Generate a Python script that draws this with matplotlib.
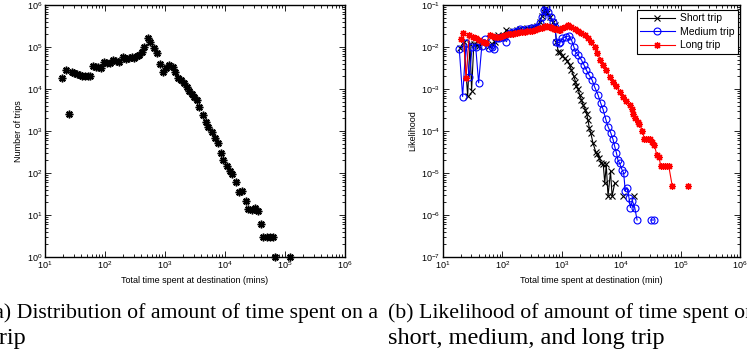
import numpy as np
import matplotlib
matplotlib.use('Agg')
import matplotlib.pyplot as plt

plt.rcParams['font.family'] = ['Liberation Sans', 'DejaVu Sans']
plt.rcParams['mathtext.default'] = 'regular'

nan = np.nan

# (a) number of trips vs total time at destination
trip_time = [19.4, 22.4, 25.1, 27.8, 30.8, 34.1, 37.8, 41.9, 46.4, 51.4, 57, 64, 70, 77.5, 85.8,
             97.5, 109, 121, 138, 152, 171, 202, 224, 251, 279, 308, 341, 373, 408, 452, 514,
             570, 648, 726, 826, 926, 1040, 1180, 1340, 1470, 1670, 1850, 2070, 2300, 2540,
             2790, 3080, 3370, 3730, 4250, 4770, 5270, 6000, 6810, 7740, 8470, 9380, 10660,
             12110, 13250, 15060, 17100, 19440, 22100, 24480, 27830, 31620, 35000, 39270,
             43520, 49440, 56230, 62250, 69000, 122700]
trip_count = [18600, 28300, 2500, 25800, 23600, 22400, 21500, 20700, 20400, 20400, 20400, 35300,
              33400, 32800, 31000, 44700, 42400, 40800, 49000, 46400, 44700, 58900, 51800, 55700,
              58900, 55700, 61100, 64600, 74800, 102000, 167000, 134000, 96400, 70800, 38700,
              24900, 31000, 37300, 34000, 24900, 18600, 16400, 13600, 11000, 9130, 7460, 6560,
              5470, 3660, 2400, 1670, 1270, 964, 668, 506, 302, 209, 145, 110, 95, 61, 36, 38,
              22, 14, 13, 15, 12.5, 6, 3, 3, 3, 3, 1, 1]

# (b) likelihood per trip type
short_t = [19.5, 22.5, 26, 28.5, 30.3, 33, 37, 41, 46, 52, 59, 66, 74, 85, 95, 106, 117, 134,
           152, 173, 197, 224, 261, 298, 339, 385, 427, 461, 498, 525, 560, 631, 700, 763, 814,
           870, 925, 1000, 1120, 1230, 1360, 1455, 1590, 1700, 1766, 1880, 2000, 2140, 2280,
           2500, 2620, 2760, 2900, 3070, 3360, 3720, 3930, 4270, 4600, 4990, 5290, 5600, 6000,
           6610, 7030, 7770, nan, 10720, nan, 16200]
short_l = [0.0095, 0.0135, 6.8e-4, 0.0115, 9.2e-4, 0.0115, 0.011, 0.0105, 0.0125, 0.0135,
           0.0105, 0.0118, 0.0135, 0.0193, 0.016, 0.0185, 0.0254, 0.022, 0.0235, 0.026, 0.027,
           0.025, 0.028, 0.029, 0.03, 0.032, 0.04, 0.055, 0.07, 0.079, 0.065, 0.053, 0.04,
           0.033, 0.0134, 0.0077, 0.0077, 0.0061, 0.0054, 0.0046, 0.0037, 0.0028, 0.002,
           0.0015, 0.00117, 0.001, 7.2e-4, 5.5e-4, 4.2e-4, 3.2e-4, 2.6e-4, 1.8e-4, 1.2e-4,
           9e-5, 5.1e-5, 3.2e-5, 2.8e-5, 2.3e-5, 1.7e-5, 1.6e-5, 5.7e-6, 1.6e-5, 2.8e-6,
           1.1e-5, 2.8e-6, 5.7e-6, nan, 2.8e-6, nan, 2.8e-6]

medium_t = [18.8, 21.4, 24.4, 27.7, 31, 35.5, 39.8, 45, 50.8, 59, 66, 72, 80, 88, 100, 117, 134,
            152, 173, 197, 224, 261, 298, 339, 385, 427, 461, 498, 538, 589, 646, 714, 763, 814,
            880, 950, 1012, 1167, 1312, 1456, 1592, 1700, 1880, 2140, 2370, 2600, 2880, 3235,
            3590, 4075, 4520, 4940, 5500, 6000, 6660, 7280, 7770, 8310, 8830, 9440, 10300,
            11000, 11700, 12500, 13500, 14300, 15400, 16900, 18500, nan, 31600, 35000]
medium_l = [0.0088, 6.6e-4, 0.0122, 0.0019, 0.0102, 0.0102, 0.0014, 0.0105, 0.0152, 0.0096,
            0.0102, 0.0088, 0.0162, 0.0165, 0.017, 0.0134, 0.021, 0.0224, 0.0245, 0.0263,
            0.0254, 0.0269, 0.0278, 0.0288, 0.0304, 0.0366, 0.0527, 0.076, 0.088, 0.069, 0.0527,
            0.040, 0.0304, 0.0134, 0.0127, 0.0134, 0.0161, 0.0176, 0.0183, 0.0147, 0.0102,
            0.0077, 0.0064, 0.0049, 0.0037, 0.0028, 0.00215, 0.00164, 0.0011, 7.2e-4, 4.6e-4,
            3.3e-4, 1.9e-4, 1.27e-4, 9.1e-5, 6.3e-5, 4.3e-5, 3.0e-5, 2.0e-5, 1.7e-5, 1.2e-5,
            1.0e-5, 3.8e-6, 4.5e-6, 2.6e-6, 1.5e-6, 2.2e-6, 1.5e-6, 7.6e-7, nan, 7.6e-7, 7.6e-7]

long_t = [19.8, 21.9, 24.4, 27.7, 31.6, 35.8, 40.7, 46.4, 52.5, 61.6, 68, 74.8, 82, 90.8, 100,
          110, 122, 134, 148, 162, 178, 197, 217, 239, 263, 290, 320, 352, 388, 427, 462, 498,
          530, 566, 605, 646, 690, 734, 783, 834, 880, 925, 1020, 1120, 1277, 1455, 1650, 1880,
          2140, 2430, 2760, 3160, 3590, 3980, 4470, 4940, 5620, 6410, 7280, 8310, 9440, 10720,
          12200, 13900, 15200, 15800, 17000, 19000, 20300, 22700, 24500, 26400, 28500, 30000,
          33000, 36000, 39800, 43300, 46200, 50000, 54000, 58000, 63000, 72500, nan, 132000]
long_l = [0.0152, 0.0219, 0.0018, 0.0193, 0.0176, 0.0161, 0.0147, 0.0134, 0.0122, 0.0193, 0.018,
          0.017, 0.0172, 0.0176, 0.0185, 0.0193, 0.02, 0.0204, 0.0208, 0.0212, 0.0218, 0.0224,
          0.0228, 0.0232, 0.0236, 0.024, 0.0247, 0.0254, 0.0265, 0.0278, 0.029, 0.0304, 0.031,
          0.0316, 0.0305, 0.0294, 0.028, 0.0263, 0.0263, 0.0263, 0.026, 0.0254, 0.028, 0.0304,
          0.0328, 0.0294, 0.0263, 0.0245, 0.0219, 0.0193, 0.0161, 0.0134, 0.0102, 0.0071,
          0.0049, 0.0037, 0.0028, 0.00196, 0.0015, 0.00118, 8.6e-4, 6.6e-4, 5.3e-4, 4.2e-4,
          3.4e-4, 2.6e-4, 2.0e-4, 1.66e-4, 1.45e-4, 1.02e-4, 6.6e-5, 6.3e-5, 6.6e-5, 6.6e-5,
          5.5e-5, 4.7e-5, 2.7e-5, 2.4e-5, 1.5e-5, 1.5e-5, 1.5e-5, 1.5e-5, 1.5e-5, 4.8e-6, nan,
          4.8e-6]

fig = plt.figure(figsize=(7.47, 3.58), dpi=100)
ax1 = fig.add_axes([45/747, 101/358, 300/747, 252/358])
ax2 = fig.add_axes([443/747, 101/358, 297/747, 252/358])

star = (8, 2, 0)

ax1.plot(trip_time, trip_count, linestyle='none', marker=star, color='k', ms=5.5, mew=1.1,
         clip_on=False)
ax1.set_ylim(1, 1e6)
ax1.set_ylabel('Number of trips', fontsize=6.5, labelpad=3)
ax1.set_xlabel('Total time spent at destination (mins)', fontsize=6.5, labelpad=3)

ax2.plot(short_t, short_l, 'x-', color='k', ms=4, mew=0.8, lw=0.8, label='Short trip')
ax2.plot(medium_t, medium_l, 'o-', color='b', mfc='none', ms=5, mew=0.8, lw=0.8,
         label='Medium trip')
ax2.plot(long_t, long_l, '-', marker=star, color='r', ms=5, mew=0.9, lw=0.8, label='Long trip')
ax2.set_ylim(1e-7, 1e-1)
ax2.set_ylabel('Likelihood', fontsize=6.5, labelpad=3)
ax2.set_xlabel('Total time spent at destination (min)', fontsize=6.5, labelpad=3)
leg = ax2.legend(loc='upper right', bbox_to_anchor=(0.993, 0.98), fontsize=7.5, fancybox=False,
                 edgecolor='k', framealpha=1, borderaxespad=0, handlelength=3.4,
                 labelspacing=0.35, borderpad=0.3, handletextpad=0.5)
leg.get_frame().set_linewidth(0.8)

for ax in (ax1, ax2):
    ax.set_xscale('log')
    ax.set_yscale('log')
    ax.set_xlim(10, 1e6)
    ax.tick_params(which='both', direction='in', top=True, right=True, labelsize=6.5, pad=2,
                   width=0.6)
    ax.tick_params(which='major', length=4)
    ax.tick_params(which='minor', length=2)
    for s in ax.spines.values():
        s.set_linewidth(1.0)

cap1 = dict(fontsize=15.7, family='Liberation Serif', va='baseline')
cap2 = dict(fontsize=17.5, family='Liberation Serif', va='baseline')
fig.text(378/747, 1 - 318/358, '(a) Distribution of amount of time spent on a', ha='right', **cap1)
fig.text(26/747, 1 - 344/358, 'trip', ha='right', **cap2)
fig.text(388/747, 1 - 318/358, '(b) Likelihood of amount of time spent on a', ha='left', **cap1)
fig.text(388/747, 1 - 344/358, 'short, medium, and long trip', ha='left', **cap2)

fig.savefig('out.png', dpi=100)
